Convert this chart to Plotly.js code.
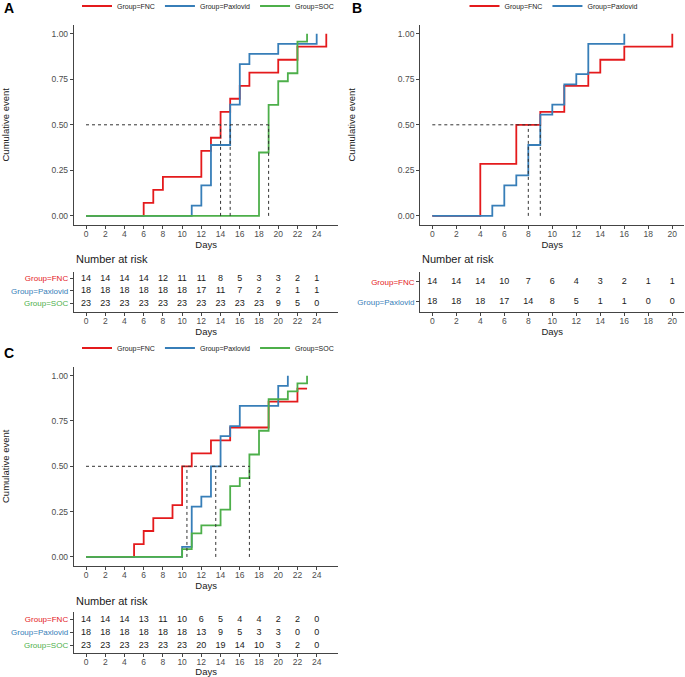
<!DOCTYPE html>
<html>
<head>
<meta charset="utf-8">
<script src="https://cdn.plot.ly/plotly-3.0.1.min.js"></script>
<style>body{margin:0;background:#fff}#chart{width:685px;height:677px}</style>
</head>
<body>
<div id="chart"></div>
<script>
const COLORS = { FNC: '#E41A1C', Paxlovid: '#377EB8', SOC: '#4DAF4A' };
const FONT = 'Liberation Sans, Arial, sans-serif';

// Panel A: cumulative event curves (step times / values)
const A_FNC_T = [0, 6, 7, 8, 12, 13, 14, 15, 16, 17, 20, 22, 25];
const A_FNC_Y = [0, 0.071, 0.143, 0.214, 0.357, 0.429, 0.571, 0.643, 0.714, 0.786, 0.857, 0.929, 1];
const A_PAX_T = [0, 11, 12, 13, 15, 16, 17, 20, 24];
const A_PAX_Y = [0, 0.056, 0.167, 0.389, 0.611, 0.833, 0.889, 0.944, 1];
const A_SOC_T = [0, 18, 19, 20, 21, 22, 23];
const A_SOC_Y = [0, 0.348, 0.609, 0.739, 0.783, 0.957, 1];
const A_MEDIANS = [14, 15, 19];
const A_RISK_X = [0, 2, 4, 6, 8, 10, 12, 14, 16, 18, 20, 22, 24];
const A_RISK_FNC = [14, 14, 14, 14, 12, 11, 11, 8, 5, 3, 3, 2, 1];
const A_RISK_PAX = [18, 18, 18, 18, 18, 18, 17, 11, 7, 2, 2, 1, 1];
const A_RISK_SOC = [23, 23, 23, 23, 23, 23, 23, 23, 23, 23, 9, 5, 0];

// Panel B
const B_FNC_T = [0, 4, 7, 9, 11, 13, 14, 16, 20];
const B_FNC_Y = [0, 0.286, 0.5, 0.571, 0.714, 0.786, 0.857, 0.929, 1];
const B_PAX_T = [0, 5, 6, 7, 8, 9, 10, 11, 12, 13, 16];
const B_PAX_Y = [0, 0.056, 0.167, 0.222, 0.389, 0.556, 0.611, 0.722, 0.778, 0.944, 1];
const B_MEDIANS = [8, 9];
const B_RISK_X = [0, 2, 4, 6, 8, 10, 12, 14, 16, 18, 20];
const B_RISK_FNC = [14, 14, 14, 10, 7, 6, 4, 3, 2, 1, 1];
const B_RISK_PAX = [18, 18, 18, 17, 14, 8, 5, 1, 1, 0, 0];

// Panel C
const C_FNC_T = [0, 5, 6, 7, 9, 10, 11, 13, 15, 19, 22, 23];
const C_FNC_Y = [0, 0.071, 0.143, 0.214, 0.286, 0.5, 0.571, 0.643, 0.714, 0.857, 0.929, 0.929];
const C_PAX_T = [0, 10, 11, 12, 13, 14, 15, 16, 20, 21];
const C_PAX_Y = [0, 0.056, 0.278, 0.333, 0.5, 0.667, 0.722, 0.833, 0.944, 1];
const C_SOC_T = [0, 10, 11, 12, 14, 15, 16, 17, 18, 19, 21, 22, 23];
const C_SOC_Y = [0, 0.043, 0.130, 0.174, 0.261, 0.391, 0.435, 0.565, 0.696, 0.870, 0.913, 0.957, 1];
const C_MEDIANS = [10.5, 13.5, 17];
const C_RISK_X = [0, 2, 4, 6, 8, 10, 12, 14, 16, 18, 20, 22, 24];
const C_RISK_FNC = [14, 14, 14, 13, 11, 10, 6, 5, 4, 4, 2, 2, 0];
const C_RISK_PAX = [18, 18, 18, 18, 18, 18, 13, 9, 5, 3, 3, 0, 0];
const C_RISK_SOC = [23, 23, 23, 23, 23, 23, 20, 19, 14, 10, 3, 2, 0];

const traces = [];

function curve(t, y, group, xa, ya, legend) {
  traces.push({
    x: t, y: y, name: 'Group=' + group,
    type: 'scatter', mode: 'lines',
    line: { color: COLORS[group], width: 1.8, shape: 'hv' },
    xaxis: xa, yaxis: ya, legend: legend,
    hovertemplate: `<b>${group}</b><br>Day %{x}: %{y:.3f}<extra></extra>`,
  });
}

function medians(meds, xa, ya) {
  const mx = Math.max(...meds);
  const vx = [], vy = [];
  meds.forEach(m => { vx.push(m, m, null); vy.push(0, 0.5, null); });
  const dash = { color: '#333', width: 1, dash: '3px,3px' };
  traces.push({ x: [0, mx], y: [0.5, 0.5], mode: 'lines', line: dash, xaxis: xa, yaxis: ya, showlegend: false, hoverinfo: 'skip' });
  traces.push({ x: vx, y: vy, mode: 'lines', line: dash, xaxis: xa, yaxis: ya, showlegend: false, hoverinfo: 'skip' });
}

function risk(xs, vals, row, xa, ya) {
  traces.push({
    x: xs, y: xs.map(() => row), text: vals.map(String),
    mode: 'text', textposition: 'middle center',
    textfont: { family: FONT, size: 9, color: '#1a1a1a' },
    xaxis: xa, yaxis: ya, showlegend: false, hoverinfo: 'skip',
  });
}

// A
curve(A_FNC_T, A_FNC_Y, 'FNC', 'x', 'y', 'legend');
curve(A_PAX_T, A_PAX_Y, 'Paxlovid', 'x', 'y', 'legend');
curve(A_SOC_T, A_SOC_Y, 'SOC', 'x', 'y', 'legend');
medians(A_MEDIANS, 'x', 'y');
risk(A_RISK_X, A_RISK_FNC, 3, 'x2', 'y2');
risk(A_RISK_X, A_RISK_PAX, 2, 'x2', 'y2');
risk(A_RISK_X, A_RISK_SOC, 1, 'x2', 'y2');
// B
curve(B_FNC_T, B_FNC_Y, 'FNC', 'x3', 'y3', 'legend2');
curve(B_PAX_T, B_PAX_Y, 'Paxlovid', 'x3', 'y3', 'legend2');
medians(B_MEDIANS, 'x3', 'y3');
risk(B_RISK_X, B_RISK_FNC, 2, 'x4', 'y4');
risk(B_RISK_X, B_RISK_PAX, 1, 'x4', 'y4');
// C
curve(C_FNC_T, C_FNC_Y, 'FNC', 'x5', 'y5', 'legend3');
curve(C_PAX_T, C_PAX_Y, 'Paxlovid', 'x5', 'y5', 'legend3');
curve(C_SOC_T, C_SOC_Y, 'SOC', 'x5', 'y5', 'legend3');
medians(C_MEDIANS, 'x5', 'y5');
risk(C_RISK_X, C_RISK_FNC, 3, 'x6', 'y6');
risk(C_RISK_X, C_RISK_PAX, 2, 'x6', 'y6');
risk(C_RISK_X, C_RISK_SOC, 1, 'x6', 'y6');

const W = 685, H = 677;
const px = v => v / W;
const py = v => 1 - v / H;

const tickfont = { family: FONT, size: 8.5, color: '#4d4d4d' };
const axisBase = {
  showline: true, linecolor: '#444', linewidth: 1.2, mirror: false,
  ticks: 'outside', ticklen: 3, tickcolor: '#444', tickwidth: 1,
  showgrid: false, zeroline: false, tickfont, fixedrange: true,
};

function xAxis(dom, range, ticks, anchor) {
  return { ...axisBase, domain: dom, range, tickvals: ticks, anchor, ticklabelstandoff: -2,
    title: { text: 'Days', font: { family: FONT, size: 9.5, color: '#1a1a1a' }, standoff: 0 } };
}
function yPlot(dom, anchor) {
  return { ...axisBase, domain: dom, range: [-0.05, 1.05], anchor,
    tickvals: [0, 0.25, 0.5, 0.75, 1], ticktext: ['0.00', '0.25', '0.50', '0.75', '1.00'],
    automargin: true,
    title: { text: 'Cumulative event', font: { family: FONT, size: 9.5, color: '#1a1a1a' }, standoff: 40 } };
}
function yTable(dom, range, groups, anchor) {
  return { ...axisBase, domain: dom, range, anchor,
    tickvals: groups.map((g, i) => groups.length - i),
    ticktext: groups.map(g => `<span style="color:${COLORS[g]}">Group=${g}</span>`),
    tickfont: { family: FONT, size: 8, color: '#333' } };
}

const TICKS24 = [0, 2, 4, 6, 8, 10, 12, 14, 16, 18, 20, 22, 24];
const TICKS20 = [0, 2, 4, 6, 8, 10, 12, 14, 16, 18, 20];
const domL = [px(74), px(338.3)];
const domR = [px(420.3), px(684.3)];

const legendBase = { orientation: 'h', xref: 'paper', yref: 'paper', xanchor: 'center', yanchor: 'middle',
  font: { family: FONT, size: 7, color: '#1a1a1a' }, bgcolor: 'rgba(0,0,0,0)', itemwidth: 30, tracegroupgap: 0 };

const nar = (xref, yref, shift) => ({ text: 'Number at risk', xref, yref, x: 0, y: 1, xanchor: 'left', yanchor: 'bottom',
  yshift: shift, showarrow: false, font: { family: FONT, size: 11, color: '#1a1a1a' } });
const panel = (t, x, y) => ({ text: `<b>${t}</b>`, xref: 'paper', yref: 'paper', x: px(x), y: py(y),
  xanchor: 'left', yanchor: 'middle', showarrow: false, font: { family: FONT, size: 14, color: '#000' } });

const layout = {
  width: W, height: H, margin: { l: 0, r: 0, t: 0, b: 0, autoexpand: false },
  paper_bgcolor: '#fff', plot_bgcolor: '#fff',
  font: { family: FONT },
  xaxis:  xAxis(domL, [-1.25, 26.25], TICKS24, 'y'),
  yaxis:  yPlot([py(225), py(24.6)], 'x'),
  xaxis2: xAxis(domL, [-1.25, 26.25], TICKS24, 'y2'),
  yaxis2: yTable([py(311.7), py(272)], [0.35, 3.5], ['FNC', 'Paxlovid', 'SOC'], 'x2'),
  xaxis3: xAxis(domR, [-1, 21], TICKS20, 'y3'),
  yaxis3: yPlot([py(225), py(24.6)], 'x3'),
  xaxis4: xAxis(domR, [-1, 21], TICKS20, 'y4'),
  yaxis4: yTable([py(311.7), py(272)], [0.5, 2.5], ['FNC', 'Paxlovid'], 'x4'),
  xaxis5: xAxis(domL, [-1.25, 26.25], TICKS24, 'y5'),
  yaxis5: yPlot([py(566), py(366.6)], 'x5'),
  xaxis6: xAxis(domL, [-1.25, 26.25], TICKS24, 'y6'),
  yaxis6: yTable([py(652.7), py(611.7)], [0.45, 3.6], ['FNC', 'Paxlovid', 'SOC'], 'x6'),
  legend:  { ...legendBase, x: px(208), y: py(6) },
  legend2: { ...legendBase, x: px(554), y: py(6) },
  legend3: { ...legendBase, x: px(208), y: py(348) },
  annotations: [
    panel('A', 2, 8), panel('B', 350, 8), panel('C', 2, 353),
    nar('x2 domain', 'y2 domain', 5), nar('x4 domain', 'y4 domain', 5), nar('x6 domain', 'y6 domain', 3),
  ],
  showlegend: true,
};

Plotly.newPlot('chart', traces, layout, { displayModeBar: false, staticPlot: true });
</script>
</body>
</html>
